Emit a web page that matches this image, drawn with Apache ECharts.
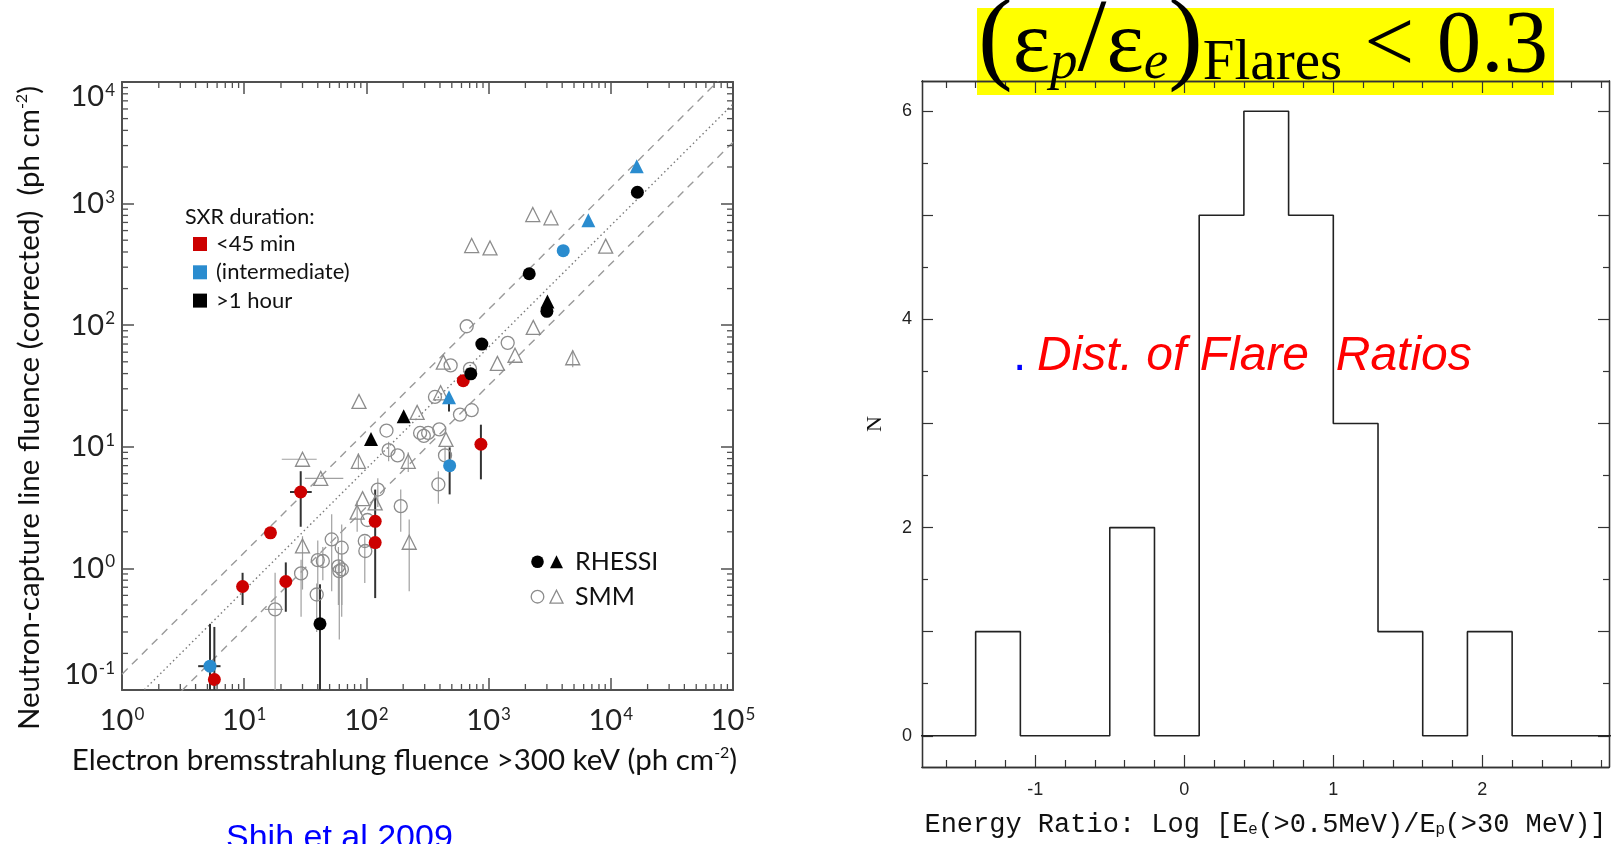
<!DOCTYPE html>
<html>
<head>
<meta charset="utf-8">
<script src="https://cdn.jsdelivr.net/npm/echarts@6/dist/echarts.min.js"></script>
<style>
  html, body { margin: 0; padding: 0; background: #ffffff; }
  #chart { width: 1614px; height: 844px; }
</style>
</head>
<body>
<div id="chart"></div>
<script>
// ---------------- Left panel: neutron-capture line fluence vs electron bremsstrahlung ----------------
// Each row: [x, y, xLow, xHigh, yLow, yHigh]; 0 means no error bar along that axis.
const rhessiShortCircles = [
  [5.7, 0.122, 0, 0, 0.1, 0.33],
  [9.7, 0.71, 0, 0, 0.5, 0.92],
  [16.4, 1.96, 0, 0, 0, 0],
  [21.9, 0.78, 0, 0, 0.44, 1.12],
  [29, 4.25, 23.7, 35.7, 2.2, 6.3],
  [118, 2.44, 0, 0, 0.57, 4.45],
  [118, 1.63, 0, 0, 0, 0],
  [620, 35, 0, 0, 0, 0],
  [865, 10.5, 0, 0, 5.4, 15.2]
];
const rhessiMidCircles = [
  [5.25, 0.157, 4.2, 6.4, 0.1, 0.35],
  [480, 7.0, 0, 0, 4.06, 9.9],
  [4080, 410, 0, 0, 0, 0]
];
const rhessiMidTriangles = [
  [474, 25.5, 0, 0, 19.5, 25.5],
  [6550, 730, 0, 0, 0, 0],
  [16300, 2030, 0, 0, 0, 0]
];
const rhessiLongCircles = [
  [41.7, 0.35, 0, 0, 0.1, 0.74],
  [715, 39.8, 0, 0, 0, 0],
  [880, 70, 0, 0, 0, 0],
  [2150, 265, 0, 0, 0, 0],
  [3000, 130, 0, 0, 0, 0],
  [16500, 1240, 0, 0, 0, 0]
];
const rhessiLongTriangles = [
  [109, 11.6, 0, 0, 0, 0],
  [202, 17.8, 0, 0, 0, 0],
  [3030, 157, 0, 0, 0, 0]
];
const smmCircles = [
  [17.9, 0.46, 14.8, 20.8, 0.1, 0.92],
  [29.2, 0.91, 0, 0, 0.40, 1.18],
  [39.2, 0.61, 0, 0, 0.3, 0.75],
  [40, 1.17, 0, 0, 0.55, 1.7],
  [44, 1.15, 0, 0, 0.8, 1.5],
  [52, 1.73, 0, 0, 0.65, 2.79],
  [62.8, 1.48, 0, 0, 0.40, 2.3],
  [59, 1.04, 0, 0, 0.5, 1.5],
  [60, 0.95, 0, 0, 0.26, 1.18],
  [63, 0.98, 0, 0, 0.5, 1.3],
  [97, 1.68, 0, 0, 0.76, 1.84],
  [98, 1.39, 0, 0, 0, 0],
  [102, 2.5, 0, 0, 0, 0],
  [124, 4.45, 0, 0, 3.2, 5.5],
  [191, 3.25, 0, 0, 2.0, 4.45],
  [388, 4.9, 0, 0, 3.4, 6.3],
  [440, 8.5, 0, 0, 7.3, 10],
  [146, 13.6, 0, 0, 0, 0],
  [152, 9.4, 0, 0, 7.6, 11],
  [180, 8.5, 0, 0, 0, 0],
  [275, 13, 0, 0, 0, 0],
  [295, 12.3, 0, 0, 0, 0],
  [320, 13, 0, 0, 0, 0],
  [395, 13.9, 0, 0, 0, 0],
  [583, 18.4, 0, 0, 0, 0],
  [727, 20, 0, 0, 0, 0],
  [364, 25.7, 0, 0, 0, 0],
  [489, 46.7, 0, 0, 0, 0],
  [704, 43.8, 0, 0, 0, 0],
  [662, 98, 0, 0, 0, 0],
  [1433, 71.6, 0, 0, 0, 0]
];
const smmTriangles = [
  [30, 7.9, 20.3, 39.2, 0, 0],
  [42.3, 5.5, 31.4, 64.7, 0, 0],
  [30, 1.53, 0, 0, 0.67, 1.84],
  [84, 2.9, 0, 0, 2.0, 3.6],
  [93, 3.75, 0, 0, 0, 0],
  [118, 3.46, 0, 0, 0, 0],
  [86, 7.6, 0, 0, 6.5, 8.8],
  [87, 23.6, 0, 0, 0, 0],
  [224, 1.64, 0, 0, 0.65, 2.52],
  [220, 7.6, 0, 0, 6.2, 9],
  [260, 19.2, 0, 0, 0, 0],
  [426, 49.7, 0, 0, 0, 0],
  [405, 27.8, 0, 0, 0, 0],
  [448, 11.5, 0, 0, 0, 0],
  [1180, 48.5, 0, 0, 0, 0],
  [1645, 56.6, 0, 0, 0, 0],
  [2320, 96, 0, 0, 0, 0],
  [4880, 54, 0, 0, 45, 62],
  [727, 452, 0, 0, 0, 0],
  [1027, 432, 0, 0, 0, 0],
  [2300, 813, 0, 0, 0, 0],
  [3240, 764, 0, 0, 0, 0],
  [9080, 447, 0, 0, 0, 0]
];
// y = ratio * x guide lines (upper dashed, dotted, lower dashed)
const guideRatios = [0.135, 0.066, 0.032];
const guideDashes = [[8, 6], [1.5, 3], [8, 6]];
const sxrLegend = ['<45 min', '(intermediate)', '>1 hour'];
const instrumentLegend = ['RHESSI', 'SMM'];

// ---------------- Right panel: distribution of flare energy ratios ----------------
const binEdges = [-2.0, -1.7, -1.4, -1.1, -0.8, -0.5, -0.2, 0.1, 0.4, 0.7, 1.0, 1.3, 1.6, 1.9, 2.2, 2.5, 2.8, 3.1];
const binCounts = [0, 0, 1, 0, 0, 2, 0, 5, 6, 5, 3, 1, 0, 1, 0, 0, 0];
const histXLabels = [-1, 0, 1, 2];
const histXMinorTicks = [-1.6, -1.4, -1.2, -0.8, -0.6, -0.4, -0.2, 0.2, 0.4, 0.6, 0.8, 1.2, 1.4, 1.6, 1.8, 2.2, 2.4, 2.6, 2.8];
const histYLabels = [0, 2, 4, 6];
const histYMajorTicks = [0, 1, 2, 3, 4, 5, 6];
const histYMinorTicks = [0.5, 1.5, 2.5, 3.5, 4.5, 5.5];

const RED = '#cc0000', BLUE = '#2a8ccf', BLACK = '#000000', GREY = '#8c8c8c';
const SANS = 'Lato, "Open Sans", sans-serif';
const SERIF = '"Liberation Serif", serif';

// outline of the histogram built from the bins
const histOutline = [];
binCounts.forEach((c, i) => {
  histOutline.push([binEdges[i], c]);
  histOutline.push([binEdges[i + 1], c]);
});

// log-axis minor tick values (2..9 within each decade)
const xMinorLog = [], yMinorLog = [];
for (let e = 0; e < 5; e++) for (let m = 2; m <= 9; m++) xMinorLog.push([m * Math.pow(10, e), 1]);
for (let e = -1; e < 4; e++) for (let m = 2; m <= 9; m++) yMinorLog.push([10, +(m * Math.pow(10, e)).toPrecision(3)]);

const chart = echarts.init(document.getElementById('chart'), null, { renderer: 'canvas' });

const powLabel = v => '10{sup|' + Math.round(Math.log10(v)) + '}';
const powRich = { sup: { fontSize: 17, fontFamily: SANS, color: '#222', verticalAlign: 'top', padding: [0, 0, 13, 1] } };

function logAxis(extra) {
  return Object.assign({
    gridIndex: 0, type: 'log', logBase: 10, splitNumber: 5,
    axisLine: { show: true, onZero: false, lineStyle: { color: '#505050', width: 2 } },
    axisTick: { show: true, inside: true, length: 12, lineStyle: { color: '#505050', width: 1.5 } },
    splitLine: { show: false },
    axisLabel: { show: false }
  }, extra);
}

function linAxis(extra) {
  return Object.assign({
    gridIndex: 1, type: 'value',
    axisLine: { show: true, onZero: false, lineStyle: { color: '#333', width: 1.3 } },
    axisTick: { show: true, inside: true, length: 11, lineStyle: { color: '#333', width: 1.2 } },
    splitLine: { show: false },
    axisLabel: { show: false }
  }, extra);
}

function errorBars(rows, color, width) {
  return {
    type: 'custom', xAxisIndex: 0, yAxisIndex: 0, data: rows, z: 2, silent: true, clip: true,
    encode: { x: 0, y: 1 },
    renderItem(params, api) {
      const x = api.value(0), y = api.value(1);
      const xl = api.value(2), xh = api.value(3), yl = api.value(4), yh = api.value(5);
      const c = api.coord([x, y]);
      const kids = [];
      const st = { stroke: color, lineWidth: width };
      if (yl > 0 && yh > 0) {
        const a = api.coord([x, yl]), b = api.coord([x, yh]);
        kids.push({ type: 'line', shape: { x1: c[0], y1: a[1], x2: c[0], y2: b[1] }, style: st });
      }
      if (xl > 0 && xh > 0) {
        const a = api.coord([xl, y]), b = api.coord([xh, y]);
        kids.push({ type: 'line', shape: { x1: a[0], y1: c[1], x2: b[0], y2: c[1] }, style: st });
      }
      return { type: 'group', children: kids };
    }
  };
}

function points(rows, symbol, color, open) {
  return {
    type: 'scatter', xAxisIndex: 0, yAxisIndex: 0, data: rows, z: 3, silent: true,
    encode: { x: 0, y: 1 },
    symbol: symbol, symbolSize: symbol === 'triangle' ? 14 : 13,
    itemStyle: open
      ? { color: 'rgba(255,255,255,0)', borderColor: color, borderWidth: 1.3, opacity: 1 }
      : { color: color, borderWidth: 0, opacity: 1 }
  };
}

function minorLogTicks(rows, dir) {
  return {
    type: 'custom', xAxisIndex: 0, yAxisIndex: 0, data: rows, silent: true, z: 4,
    encode: { x: 0, y: 1 },
    renderItem(params, api) {
      const cs = params.coordSys;
      const p = api.coord([api.value(0), api.value(1)]);
      const st = { stroke: '#505050', lineWidth: 1.3 };
      const L = 6;
      if (dir === 'x') {
        return { type: 'group', children: [
          { type: 'line', shape: { x1: p[0], y1: cs.y + cs.height, x2: p[0], y2: cs.y + cs.height - L }, style: st },
          { type: 'line', shape: { x1: p[0], y1: cs.y, x2: p[0], y2: cs.y + L }, style: st }
        ] };
      }
      return { type: 'group', children: [
        { type: 'line', shape: { x1: cs.x, y1: p[1], x2: cs.x + L, y2: p[1] }, style: st },
        { type: 'line', shape: { x1: cs.x + cs.width, y1: p[1], x2: cs.x + cs.width - L, y2: p[1] }, style: st }
      ] };
    }
  };
}

const series = [];
guideRatios.forEach((r, i) => {
  series.push({
    type: 'line', xAxisIndex: 0, yAxisIndex: 0, silent: true, symbol: 'none', z: 1, clip: true,
    data: [[1, r * 1], [1e5, r * 1e5]],
    lineStyle: { color: i === 1 ? '#7a7a7a' : '#9a9a9a', width: 1.4, type: guideDashes[i] }
  });
});
series.push(errorBars(smmCircles, '#a0a0a0', 1.2));
series.push(errorBars(smmTriangles, '#a0a0a0', 1.2));
series.push(errorBars(rhessiShortCircles, '#333333', 2));
series.push(errorBars(rhessiMidCircles, '#333333', 2));
series.push(errorBars(rhessiMidTriangles, '#333333', 2));
series.push(errorBars(rhessiLongCircles, '#333333', 2));
series.push(points(smmCircles, 'circle', GREY, true));
series.push(points(smmTriangles, 'triangle', GREY, true));
series.push(points(rhessiShortCircles, 'circle', RED, false));
series.push(points(rhessiMidCircles, 'circle', BLUE, false));
series.push(points(rhessiMidTriangles, 'triangle', BLUE, false));
series.push(points(rhessiLongCircles, 'circle', BLACK, false));
series.push(points(rhessiLongTriangles, 'triangle', BLACK, false));
series.push(minorLogTicks(xMinorLog, 'x'));
series.push(minorLogTicks(yMinorLog, 'y'));

// histogram outline
series.push({
  type: 'line', xAxisIndex: 2, yAxisIndex: 2, data: histOutline, symbol: 'none', silent: true,
  clip: true, z: 3, lineStyle: { color: '#222', width: 1.6 }
});

const legendText = { fontFamily: SANS, fill: '#111' };
const sxrColors = [RED, BLUE, BLACK];
const graphics = [];
graphics.push({ type: 'text', silent: true, x: 185, y: 217,
  style: Object.assign({ text: 'SXR duration:', fontSize: 21.5, verticalAlign: 'middle' }, legendText) });
sxrLegend.forEach((name, i) => {
  const cy = 244 + i * 28.3;
  graphics.push({ type: 'rect', silent: true, shape: { x: 193, y: cy - 7, width: 14, height: 14 }, style: { fill: sxrColors[i] } });
  graphics.push({ type: 'text', silent: true, x: 216, y: cy,
    style: Object.assign({ text: name, fontSize: 22, verticalAlign: 'middle' }, legendText) });
});
function tri(cx, cy, s) { return [[cx, cy - s / 2], [cx + s / 2, cy + s / 2], [cx - s / 2, cy + s / 2]]; }
[[561.7, false], [596.7, true]].forEach(([cy, open], i) => {
  const st = open ? { fill: 'none', stroke: GREY, lineWidth: 1.3 } : { fill: '#000' };
  graphics.push({ type: 'circle', silent: true, shape: { cx: 537.5, cy: cy, r: 6.3 }, style: st });
  graphics.push({ type: 'polygon', silent: true, shape: { points: tri(556.5, cy, 13) }, style: st });
  graphics.push({ type: 'text', silent: true, x: 575, y: cy,
    style: Object.assign({ text: instrumentLegend[i], fontSize: 25, verticalAlign: 'middle' }, legendText) });
});
graphics.push({ type: 'text', silent: true, x: 226, y: 839,
  style: { text: 'Shih et al 2009', fontSize: 34, fontFamily: '"Liberation Sans", Arial, sans-serif', fill: '#0000ff', verticalAlign: 'middle' } });

// right panel annotations
graphics.push({ type: 'rect', silent: true, shape: { x: 977, y: 8, width: 577, height: 87 }, style: { fill: '#ffff00' } });
graphics.push({ type: 'text', silent: true, x: 978, y: 50, z: 10,
  style: {
    text: '{par|(}{eps|ε}{sub|p}{par|/}{eps|ε}{sub|e}{par|)}{fl|Flares}{eps| < 0.3}',
    align: 'left', verticalAlign: 'middle',
    rich: {
      par: { fontSize: 104, lineHeight: 104, fontFamily: SERIF, fill: '#000', verticalAlign: 'bottom', padding: [0, 0, 7, 0] },
      eps: { fontSize: 89, lineHeight: 89, fontFamily: SERIF, fill: '#000', verticalAlign: 'bottom', padding: [0, 0, 10, 0] },
      sub: { fontSize: 55, lineHeight: 55, fontStyle: 'italic', fontFamily: SERIF, fill: '#000', verticalAlign: 'bottom', padding: [0, 0, 10.6, 0] },
      fl: { fontSize: 57, lineHeight: 57, fontFamily: SERIF, fill: '#000', verticalAlign: 'bottom', padding: [0, 0, 9, 0] }
    }
  } });
graphics.push({ type: 'text', silent: true, x: 1013, y: 357, z: 10,
  style: { text: '.', fontSize: 48, fontFamily: '"Liberation Sans", Arial, sans-serif', fill: '#0000ff', verticalAlign: 'middle' } });
graphics.push({ type: 'text', silent: true, x: 1037, y: 357, z: 10,
  style: { text: 'Dist. of Flare  Ratios', fontSize: 48, fontStyle: 'italic', fontFamily: '"Liberation Sans", Arial, sans-serif', fill: '#ff0000', verticalAlign: 'middle' } });

const option = {
  backgroundColor: '#ffffff',
  animation: false,
  grid: [
    { left: 122, top: 82, width: 611, height: 608, containLabel: false, outerBoundsMode: 'none' },
    { left: 922, top: 81, width: 687, height: 686, containLabel: false, outerBoundsMode: 'none' }
  ],
  xAxis: [
    logAxis({
      position: 'bottom', min: 1, max: 1e5,
      axisLabel: { show: true, formatter: powLabel, rich: powRich, fontSize: 29, fontFamily: SANS, color: '#222', margin: 16 },
      name: 'Electron bremsstrahlung fluence >300 keV (ph cm{sup|-2})',
      nameLocation: 'middle', nameGap: 55, nameMoveOverlap: false,
      nameTextStyle: { fontSize: 29.5, fontFamily: SANS, color: '#111', padding: [0, 46, 0, 0],
        rich: { sup: { fontSize: 16, fontFamily: SANS, color: '#111', verticalAlign: 'top', padding: [0, 0, 12, 0] } } }
    }),
    logAxis({ position: 'top', min: 1, max: 1e5 }),
    linAxis({
      position: 'bottom', min: -1.76, max: 2.85,
      axisTick: { show: true, inside: true, length: 12, customValues: histXLabels, lineStyle: { color: '#333', width: 1.2 } },
      axisLabel: { show: true, customValues: histXLabels, fontSize: 18, fontFamily: '"Liberation Sans", sans-serif', color: '#222', margin: 14 },
      name: 'Energy Ratio: Log [E{sub|e}(>0.5MeV)/E{sub|p}(>30 MeV)]',
      nameLocation: 'middle', nameGap: 44, nameMoveOverlap: false,
      nameTextStyle: { fontSize: 27, fontFamily: '"Liberation Mono", monospace', color: '#111',
        rich: { sub: { fontSize: 16, fontFamily: '"Liberation Sans", sans-serif', color: '#111', verticalAlign: 'bottom' } } }
    }),
    linAxis({ position: 'bottom', min: -1.76, max: 2.85,
      axisTick: { show: true, inside: true, length: 7, customValues: histXMinorTicks, lineStyle: { color: '#333', width: 1.2 } } }),
    linAxis({ position: 'top', min: -1.76, max: 2.85,
      axisTick: { show: true, inside: true, length: 12, customValues: histXLabels, lineStyle: { color: '#333', width: 1.2 } } }),
    linAxis({ position: 'top', min: -1.76, max: 2.85,
      axisTick: { show: true, inside: true, length: 7, customValues: histXMinorTicks, lineStyle: { color: '#333', width: 1.2 } } })
  ],
  yAxis: [
    logAxis({
      position: 'left', min: 0.1, max: 1e4,
      axisLabel: { show: true, formatter: powLabel, rich: powRich, fontSize: 29, fontFamily: SANS, color: '#222', margin: 7,
        verticalAlignMinLabel: 'bottom', verticalAlignMaxLabel: 'top' },
      name: 'Neutron-capture line fluence (corrected)  (ph cm{sup|-2})',
      nameLocation: 'middle', nameRotate: 90, nameGap: 78, nameMoveOverlap: false,
      nameTextStyle: { fontSize: 29.5, fontFamily: SANS, color: '#111', padding: [0, 44, 0, 0],
        rich: { sup: { fontSize: 16, fontFamily: SANS, color: '#111', verticalAlign: 'top', padding: [0, 0, 12, 0] } } }
    }),
    logAxis({ position: 'right', min: 0.1, max: 1e4 }),
    linAxis({
      position: 'left', min: -0.3, max: 6.29,
      axisTick: { show: true, inside: true, length: 11, customValues: histYMajorTicks, lineStyle: { color: '#333', width: 1.2 } },
      axisLabel: { show: true, customValues: histYLabels, fontSize: 18, fontFamily: '"Liberation Sans", sans-serif', color: '#222', margin: 10 },
      name: 'N', nameLocation: 'middle', nameRotate: 90, nameGap: 36, nameMoveOverlap: false,
      nameTextStyle: { fontSize: 22, fontFamily: SERIF, color: '#111' }
    }),
    linAxis({ position: 'left', min: -0.3, max: 6.29,
      axisTick: { show: true, inside: true, length: 6, customValues: histYMinorTicks, lineStyle: { color: '#333', width: 1.2 } } }),
    linAxis({ position: 'right', min: -0.3, max: 6.29,
      axisTick: { show: true, inside: true, length: 11, customValues: histYMajorTicks, lineStyle: { color: '#333', width: 1.2 } } }),
    linAxis({ position: 'right', min: -0.3, max: 6.29,
      axisTick: { show: true, inside: true, length: 6, customValues: histYMinorTicks, lineStyle: { color: '#333', width: 1.2 } } })
  ],
  series: series,
  graphic: graphics
};

chart.setOption(option);
</script>
</body>
</html>
